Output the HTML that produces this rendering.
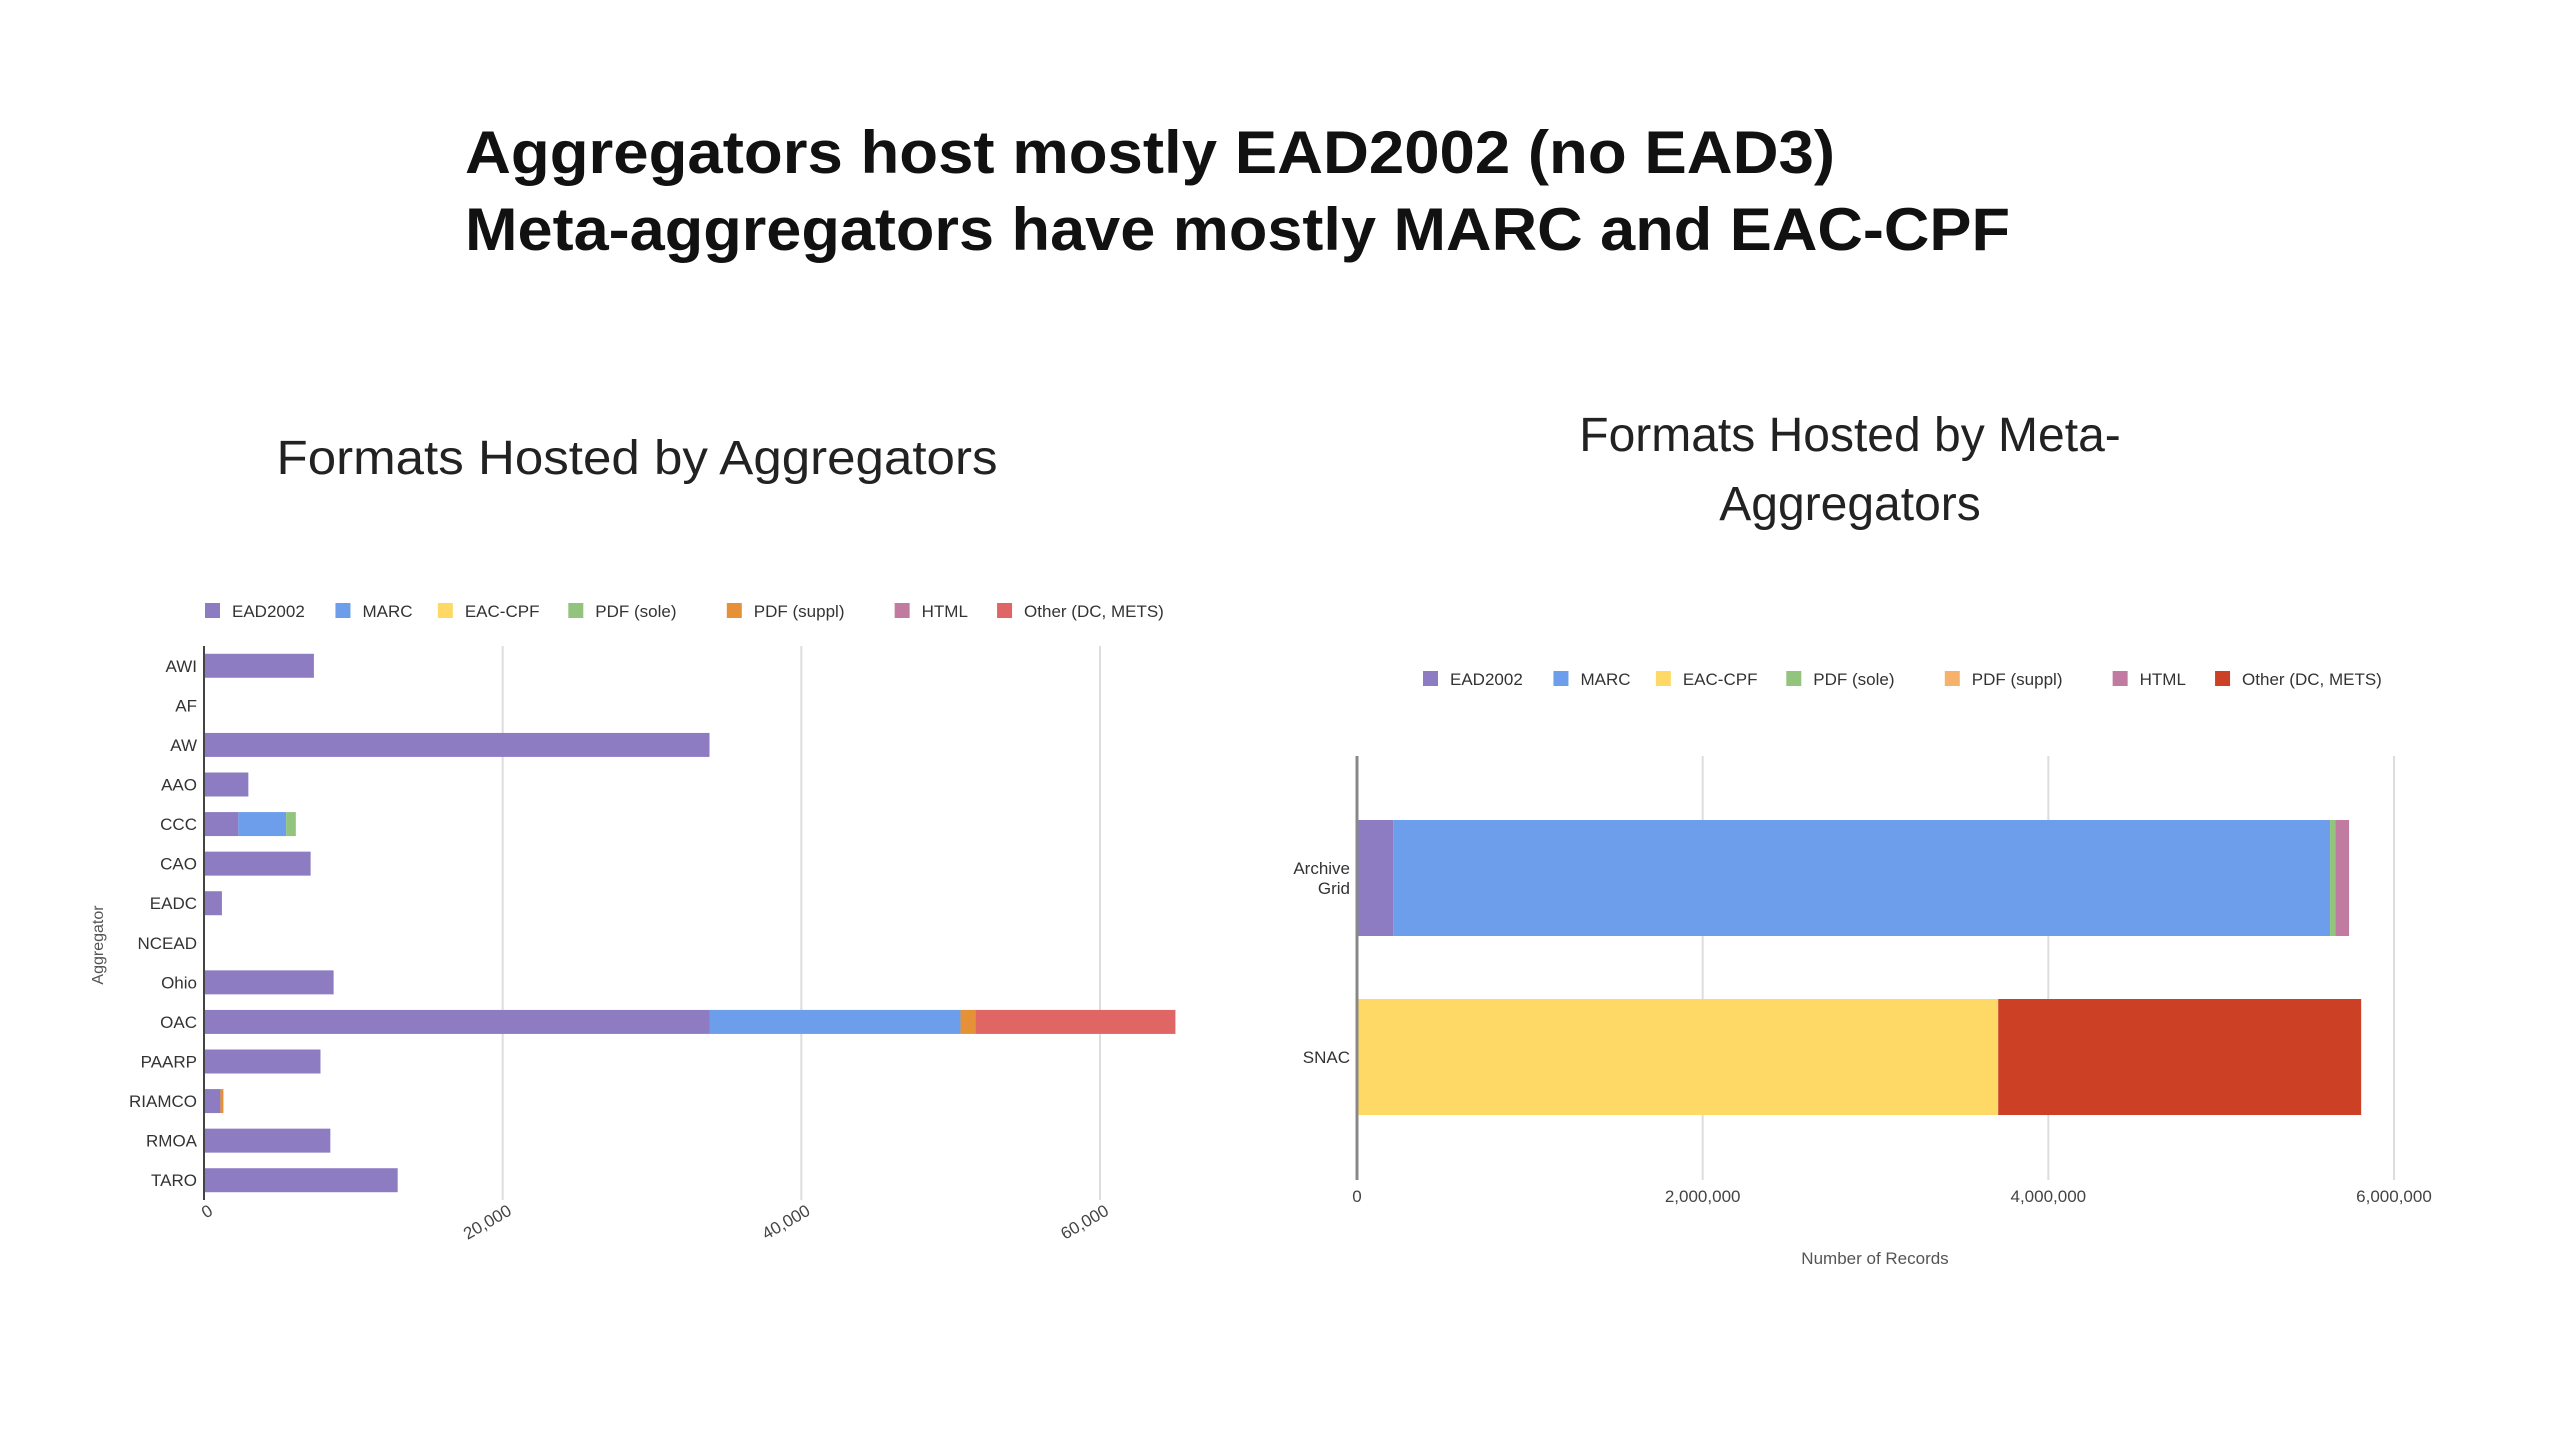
<!DOCTYPE html>
<html><head><meta charset="utf-8"><style>
html,body{margin:0;padding:0;background:#fff;width:2560px;height:1440px;overflow:hidden}
svg{display:block;font-family:"Liberation Sans",sans-serif}
</style></head><body>
<svg id="s" width="2560" height="1440" viewBox="0 0 2560 1440">
<text x="465" y="173" font-size="60" font-weight="bold" fill="#111" textLength="1370" lengthAdjust="spacingAndGlyphs">Aggregators host mostly EAD2002 (no EAD3)</text>
<text x="465" y="250" font-size="60" font-weight="bold" fill="#111" textLength="1545" lengthAdjust="spacingAndGlyphs">Meta-aggregators have mostly MARC and EAC-CPF</text>
<text x="637" y="474" font-size="48" fill="#222" text-anchor="middle" textLength="721" lengthAdjust="spacingAndGlyphs">Formats Hosted by Aggregators</text>
<text x="1850" y="451" font-size="48" fill="#222" text-anchor="middle">Formats Hosted by Meta-</text>
<text x="1850" y="520" font-size="48" fill="#222" text-anchor="middle">Aggregators</text>
<g id="left"></g>
<g id="right"></g>
</svg>
<script>
const NS="http://www.w3.org/2000/svg";
const seriesNames=["EAD2002","MARC","EAC-CPF","PDF (sole)","PDF (suppl)","HTML","Other (DC, METS)"];
const leftColors=["#8e7cc3","#6d9eeb","#ffd966","#93c47d","#e69138","#c27ba0","#e06666"];
const rightColors=["#8e7cc3","#6d9eeb","#ffd966","#93c47d","#f6b26b","#c27ba0","#cc4125"];
const aggCategories=["AWI","AF","AW","AAO","CCC","CAO","EADC","NCEAD","Ohio","OAC","PAARP","RIAMCO","RMOA","TARO"];
const aggEAD2002=[7360,0,33850,2970,2300,7140,1200,0,8680,33850,7800,1100,8460,12970];
const aggMARC=[0,0,0,0,3200,0,0,0,0,16810,0,0,0,0];
const aggEACCPF=[0,0,0,0,0,0,0,0,0,0,0,0,0,0];
const aggPDFsole=[0,0,0,0,650,0,0,0,0,0,0,0,0,0];
const aggPDFsuppl=[0,0,0,0,0,0,0,0,0,990,0,200,0,0];
const aggHTML=[0,0,0,0,0,0,0,0,0,0,0,0,0,0];
const aggOther=[0,0,0,0,0,0,0,0,0,13400,0,0,0,0];
const aggTicks=[0,20000,40000,60000];
const aggTickLabels=["0","20,000","40,000","60,000"];
const metaCategories=[["Archive","Grid"],["SNAC"]];
const metaEAD2002=[209000,0];
const metaMARC=[5421000,0];
const metaEACCPF=[0,3710000];
const metaPDFsole=[30000,0];
const metaPDFsuppl=[0,0];
const metaHTML=[80000,0];
const metaOther=[0,2100000];
const metaTicks=[0,2000000,4000000,6000000];
const metaTickLabels=["0","2,000,000","4,000,000","6,000,000"];

function el(tag,attrs,parent,text){const e=document.createElementNS(NS,tag);for(const k in attrs)e.setAttribute(k,attrs[k]);if(text!=null)e.textContent=text;parent.appendChild(e);return e;}

function legend(g,x0,y,colors,fs){
  let x=x0;
  seriesNames.forEach((n,i)=>{
    const r=el("rect",{x:x,y:y-8,width:15,height:15,fill:colors[i]},g);
    
    
    const t=el("text",{x:x+27,y:y+6,"font-size":fs,fill:"#333"},g,n);
    
    
    x+=27+n.length*fs*0.55+38;
  });
}

// LEFT chart
(function(){
  const g=document.getElementById("left");
  const x0=204,xPer=(1100-204)/60000,top=646,bottom=1200;
  const xs=v=>x0+v*xPer;
  const rowH=(bottom-top)/aggCategories.length;
  const yc=i=>top+rowH*(i+0.5);
  legend(g,205,611,leftColors,17);
  aggTicks.forEach((t,i)=>{
    if(i>0){const l=el("line",{x1:xs(t),x2:xs(t),y1:top,y2:bottom,stroke:"#ddd","stroke-width":2},g);
    
    }
    const tx=el("text",{x:xs(t)+10,y:1214,"font-size":17,fill:"#444","text-anchor":"end",transform:`rotate(-30 ${xs(t)+10} 1214)`},g,aggTickLabels[i]);
    
    
  });
  const series=[aggEAD2002,aggMARC,aggEACCPF,aggPDFsole,aggPDFsuppl,aggHTML,aggOther];
  aggCategories.forEach((c,i)=>{
    const t=el("text",{x:197,y:yc(i)+6,"font-size":17,fill:"#333","text-anchor":"end"},g,c);
    
    
    let acc=0;
    series.forEach((s,k)=>{
      if(s[i]>0){
        const r=el("rect",{x:xs(acc),y:yc(i)-12,width:xs(acc+s[i])-xs(acc),height:24,fill:leftColors[k]},g);
        
        
      }
      acc+=s[i];
    });
  });
  const ax=el("line",{x1:x0,x2:x0,y1:top,y2:bottom,stroke:"#444","stroke-width":2},g);
  
  
  const yt=el("text",{x:103,y:945,"font-size":16,fill:"#555","text-anchor":"middle",transform:"rotate(-90 103 945)"},g,"Aggregator");
  
  
})();

// RIGHT chart
(function(){
  const g=document.getElementById("right");
  const x0=1357,xPer=(2394-1357)/6000000,top=756,bottom=1180;
  const xs=v=>x0+v*xPer;
  const bandH=(bottom-top)/metaCategories.length;
  const yc=i=>top+30+bandH*0.42+i*(1056-878);
  legend(g,1423,679,rightColors,17);
  metaTicks.forEach((t,i)=>{
    if(i>0){const l=el("line",{x1:xs(t),x2:xs(t),y1:top,y2:bottom,stroke:"#ddd","stroke-width":2},g);
    
    }
    const tx=el("text",{x:xs(t),y:1202,"font-size":17,fill:"#444","text-anchor":"middle"},g,metaTickLabels[i]);
    
    
  });
  const series=[metaEAD2002,metaMARC,metaEACCPF,metaPDFsole,metaPDFsuppl,metaHTML,metaOther];
  metaCategories.forEach((c,i)=>{
    const cy=i===0?878:1057;
    c.forEach((ln,j)=>{
      const t=el("text",{x:1350,y:cy+6+(j-(c.length-1)/2)*20,"font-size":17,fill:"#333","text-anchor":"end"},g,ln);
      
      
    });
    let acc=0;
    series.forEach((s,k)=>{
      if(s[i]>0){
        const r=el("rect",{x:xs(acc),y:cy-58,width:xs(acc+s[i])-xs(acc),height:116,fill:rightColors[k]},g);
        
        
      }
      acc+=s[i];
    });
  });
  const ax=el("line",{x1:x0,x2:x0,y1:top,y2:bottom,stroke:"#888","stroke-width":3},g);
  
  
  const xt=el("text",{x:1875,y:1264,"font-size":17,fill:"#555","text-anchor":"middle"},g,"Number of Records");
  
  
})();
</script>
</body></html>
